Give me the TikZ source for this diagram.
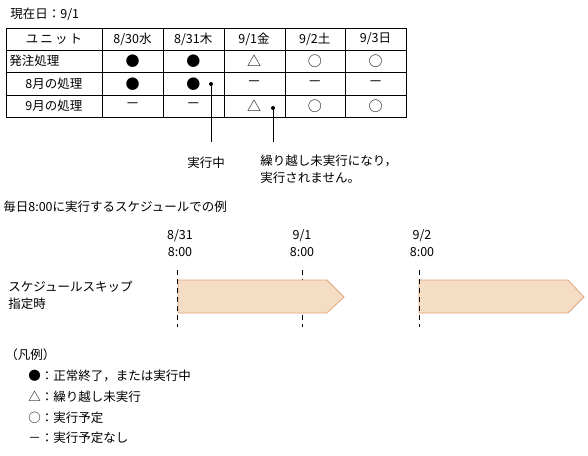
\documentclass[tikz,border=0pt]{standalone}
\usepackage{fontspec}
\setmainfont{Noto Sans CJK JP}
\usetikzlibrary{calc}
\definecolor{barfill}{RGB}{245,220,196}
\definecolor{barline}{RGB}{222,168,124}

\begin{document}
\begin{tikzpicture}[x=1pt,y=-1pt,line width=0.8pt,
    every node/.style={font=\fontsize{12.5}{17}\selectfont,inner sep=0pt},
    leftlab/.style={anchor=west},
    mark sym/.style={font=\fontsize{14}{17}\selectfont},
    dot/.style={circle,fill,minimum size=4pt},
    timeline/.style={dash pattern=on 5pt off 4pt},
    bar/.style={draw=barline,fill=barfill,line width=0.8pt}]
\useasboundingbox (0,0) rectangle (588,455);

% Title
\node[leftlab] (today) at (10,14) {現在日：9/1};

% Table grid
\draw (6,28) rectangle (406,117);
\foreach \y in {50,72.5,95} \draw (6,\y) -- (406,\y);
\foreach \x in {102,163,224,285,345} \draw (\x,28) -- (\x,117);

% Header
\node (head0) at (54,39) {ユ\,ニ\,ッ\,ト};
\foreach \lab [count=\c] in {8/30水,8/31木,9/1金,9/2土,9/3日}
  \node (head\c) at ({132.5+60.75*(\c-1)},39) {\lab};

% Rows
\node[leftlab] (row1) at (9,61) {発注処理};
\node[leftlab] (row2) at (25,84) {8月の処理};
\node[leftlab] (row3) at (25,106) {9月の処理};
\foreach \sym [count=\c] in {●,●,△,○,○}
  \node[mark sym] (ra\c) at ({132.5+60.75*(\c-1)},61) {\sym};
\foreach \sym [count=\c] in {●,●,－,－,－}
  \node[mark sym] (rb\c) at ({132.5+60.75*(\c-1)},84) {\sym};
\foreach \sym [count=\c] in {－,－,△,○,○}
  \node[mark sym] (rc\c) at ({132.5+60.75*(\c-1)},106) {\sym};

% Leaders
\node[dot] (run) at (211,84) {};
\node[dot] (skip) at (273,108) {};
\coordinate (runend) at (211,142);
\coordinate (skipend) at (273,142);
\draw (run.center) -- (runend);
\draw (skip.center) -- (skipend);
\node (runlab) at (206,163) {実行中};
\node[leftlab,align=left,anchor=north west] (skiplab) at (260,155) {繰り越し未実行になり，\\実行されません。};

% Schedule example
\node[leftlab] (example) at (3,207) {毎日8:00に実行するスケジュールでの例};
\node[align=center] (t1) at (180,243.5) {8/31\\8:00};
\node[align=center] (t2) at (302,243.5) {9/1\\8:00};
\node[align=center] (t3) at (422,243.5) {9/2\\8:00};
\node[leftlab,align=left] (skipset) at (8,295) {スケジュールスキップ\\指定時};

\draw[timeline] (302,270) -- (302,327);
\draw[bar] (178,280) -- (327,280) -- (344,297) -- (327,313) -- (178,313) -- cycle;
\draw[bar] (419,280) -- (568,280) -- (584,297) -- (568,313) -- (419,313) -- cycle;
\draw[timeline] (177,270) -- (177,327);
\draw[timeline] (419,270) -- (419,327);

% Legend
\node[leftlab] (legend) at (5,355) {（凡例）};
\node[leftlab] (lg1) at (28,376) {●：正常終了，または実行中};
\node[leftlab] (lg2) at (28,397) {△：繰り越し未実行};
\node[leftlab] (lg3) at (28,418) {○：実行予定};
\node[leftlab] (lg4) at (28,438) {－：実行予定なし};

\end{tikzpicture}
\end{document}
